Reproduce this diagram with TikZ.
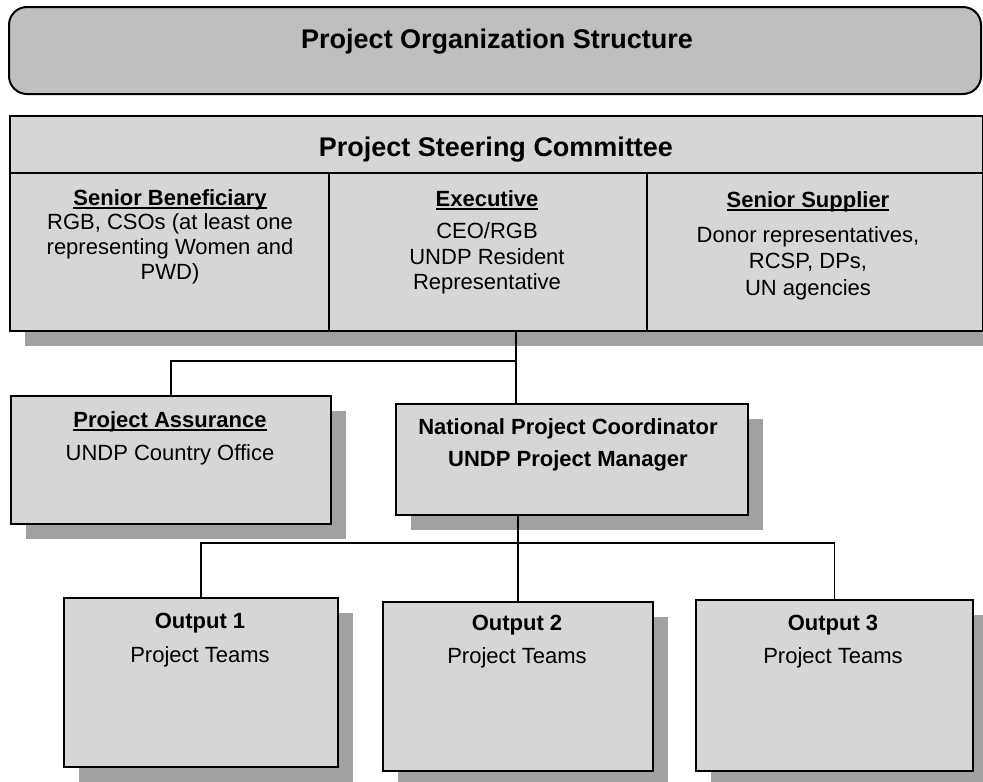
\documentclass[tikz,border=0pt]{standalone}
\usepackage{fontspec}
\setmainfont{Liberation Sans}
\newsavebox\myulbox
\newcommand\myul[1]{\sbox\myulbox{#1}\rlap{\rule[-3.5pt]{\wd\myulbox}{1.5pt}}\usebox\myulbox}
\usetikzlibrary{shadows}
\definecolor{boxgray}{gray}{0.84}
\definecolor{titlegray}{gray}{0.75}
\definecolor{shadowgray}{gray}{0.63}
\begin{document}
\begin{tikzpicture}[x=1pt,y=-1pt,
  plainbox/.style={draw=black, line width=2pt, fill=boxgray, inner sep=0pt, anchor=north west},
  box/.style={plainbox, drop shadow={shadow xshift=15pt, shadow yshift=-15pt, fill=shadowgray, opacity=1}},
  txt/.style={anchor=base, inner sep=0pt, font=\fontsize{22}{25}\selectfont},
  btxt/.style={anchor=base, inner sep=0pt, font=\fontsize{22}{25}\selectfont\bfseries},
  head/.style={anchor=base, inner sep=0pt, font=\fontsize{27}{30}\selectfont\bfseries},
  conn/.style={draw=black, line width=1.3pt}]
\useasboundingbox[fill=white] (0,0) rectangle (983,782);

% title
\node[plainbox, fill=titlegray, rounded corners=18pt, minimum width=972pt, minimum height=87pt] (title) at (8,6) {};
\node[head] (titletxt) at (497,48) {Project Organization Structure};

% steering committee
\node[box, minimum width=973pt, minimum height=215pt] (steer) at (9,115) {};
\node[plainbox, minimum width=973pt, minimum height=57pt] (hdr) at (9,115) {};
\node[plainbox, minimum width=319pt, minimum height=158pt] (sb) at (9,172) {};
\node[plainbox, minimum width=318pt, minimum height=158pt] (ex) at (328,172) {};
\node[plainbox, minimum width=336pt, minimum height=158pt] (ss) at (646,172) {};
\node[head] (hdrtxt) at (496,156) {Project Steering Committee};

\node[btxt] (sb1) at (170,205) {\myul{Senior Beneficiary}};
\node[txt] (sb2) at (170,229) {RGB, CSOs (at least one};
\node[txt] (sb3) at (170,254) {representing Women and};
\node[txt] (sb4) at (170,279) {PWD)};

\node[btxt] (ex1) at (487,206) {\myul{Executive}};
\node[txt] (ex2) at (487,238) {CEO/RGB};
\node[txt] (ex3) at (487,264) {UNDP Resident};
\node[txt] (ex4) at (487,289) {Representative};

\node[btxt] (ss1) at (808,207) {\myul{Senior Supplier}};
\node[txt] (ss2) at (808,242) {Donor representatives,};
\node[txt] (ss3) at (808,268) {RCSP, DPs,};
\node[txt] (ss4) at (808,295) {UN agencies};

% second level
\node[box, minimum width=320pt, minimum height=128pt] (pa) at (10,395) {};
\node[btxt] (pa1) at (170,427) {\myul{Project Assurance}};
\node[txt] (pa2) at (170,460) {UNDP Country Office};

\node[box, minimum width=352pt, minimum height=111pt] (npc) at (395,403) {};
\node[btxt] (npc1) at (568,434) {National Project Coordinator};
\node[btxt] (npc2) at (568,466) {UNDP Project Manager};

% outputs
\node[box, minimum width=274pt, minimum height=169pt] (o1) at (63,597) {};
\node[btxt] (o1a) at (200,628) {Output 1};
\node[txt] (o1b) at (200,662) {Project Teams};

\node[box, minimum width=270pt, minimum height=169pt] (o2) at (382,601) {};
\node[btxt] (o2a) at (517,630) {Output 2};
\node[txt] (o2b) at (517,663) {Project Teams};

\node[box, minimum width=277pt, minimum height=171pt] (o3) at (695,599) {};
\node[btxt] (o3a) at (833,630) {Output 3};
\node[txt] (o3b) at (833,663) {Project Teams};

% connectors
\coordinate (j1) at (516,361);
\draw[conn] (j1 |- steer.south) -- (j1 |- npc.north);
\draw[conn] (pa.north) |- (j1);
\coordinate (j2) at (517,543);
\draw[conn] (o2.north |- npc.south) -- (o2.north);
\draw[conn] (o1.north) |- (j2) -| (o3.north);
\end{tikzpicture}
\end{document}
